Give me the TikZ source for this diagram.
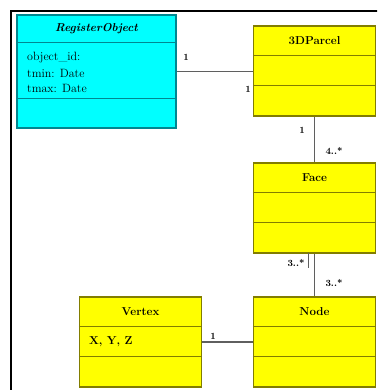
\documentclass[tikz,border=0pt]{standalone}
\usetikzlibrary{calc}
\definecolor{umlcyan}{RGB}{0,255,255}
\definecolor{umlcyanline}{RGB}{0,135,145}
\definecolor{umlyellow}{RGB}{255,255,0}
\definecolor{umlyellowline}{RGB}{130,125,0}
\definecolor{linkgray}{RGB}{95,95,95}
\begin{document}
\begin{tikzpicture}[x=1pt,y=-1pt,
  cbox/.style={draw=umlcyanline, fill=umlcyan, line width=1.1pt, inner sep=0pt, minimum width=159pt, minimum height=113pt},
  ybox/.style={draw=umlyellowline, fill=umlyellow, line width=1.1pt, inner sep=0pt, minimum width=122pt, minimum height=90pt},
  cdiv/.style={draw=umlcyanline, line width=1.1pt},
  ydiv/.style={draw=umlyellowline, line width=1.1pt},
  title/.style={font=\fontsize{11.5}{13}\selectfont\bfseries, inner sep=0pt},
  attr/.style={font=\fontsize{12}{14}\selectfont, anchor=west, inner sep=0pt},
  link/.style={draw=linkgray, line width=1.2pt},
  mult/.style={font=\fontsize{9.5}{11}\selectfont\bfseries, inner sep=0pt}]
\useasboundingbox (0,0) rectangle (377,390);
\clip (0,0) rectangle (377,390);
\fill[white] (0,0) rectangle (377,390);
% outer frame
\draw[line width=2pt] (11,400) -- (11,11) -- (400,11);

% RegisterObject
\node[cbox] (reg) at (96.5,71.5) {};
\draw[cdiv] ($(reg.north west)+(0,28)$) -- ($(reg.north east)+(0,28)$);
\draw[cdiv] ($(reg.north west)+(0,84)$) -- ($(reg.north east)+(0,84)$);
\node[title, font=\fontsize{11.5}{13}\selectfont\bfseries\itshape] (regt) at (96.5,29) {RegisterObject};
\node[attr] (rega1) at (27,58) {object\_id:};
\node[attr] (rega2) at (27,73) {tmin: Date};
\node[attr] (rega3) at (27,88) {tmax: Date};

% 3DParcel
\node[ybox] (parcel) at (314.5,71) {};
\draw[ydiv] ($(parcel.north west)+(0,30)$) -- ($(parcel.north east)+(0,30)$);
\draw[ydiv] ($(parcel.north west)+(0,60)$) -- ($(parcel.north east)+(0,60)$);
\node[title] (parcelt) at (314.5,41) {3DParcel};

% Face
\node[ybox] (face) at (314.5,208) {};
\draw[ydiv] ($(face.north west)+(0,30)$) -- ($(face.north east)+(0,30)$);
\draw[ydiv] ($(face.north west)+(0,60)$) -- ($(face.north east)+(0,60)$);
\node[title] (facet) at (314.5,178) {Face};

% Vertex
\node[ybox] (vertex) at (140.5,342) {};
\draw[ydiv] ($(vertex.north west)+(0,30)$) -- ($(vertex.north east)+(0,30)$);
\draw[ydiv] ($(vertex.north west)+(0,60)$) -- ($(vertex.north east)+(0,60)$);
\node[title] (vertext) at (140.5,312) {Vertex};
\node[attr, font=\fontsize{11.5}{13}\selectfont\bfseries] (vertexa) at (89,342) {X, Y, Z};

% Node
\node[ybox] (nd) at (314.5,342) {};
\draw[ydiv] ($(nd.north west)+(0,30)$) -- ($(nd.north east)+(0,30)$);
\draw[ydiv] ($(nd.north west)+(0,60)$) -- ($(nd.north east)+(0,60)$);
\node[title] (ndt) at (314.5,312) {Node};

% associations
\draw[link] (reg.east) -- (reg.east -| parcel.west);
\draw[link] (parcel.south) -- (face.north);
\draw[link] (face.south) -- (nd.north);
\draw[link] (vertex.east) -- (nd.west);
\coordinate (tickA) at (308,253);
\coordinate (tickB) at (308,268);
\draw[link, line width=0.8pt] (tickA) -- (tickB);

% multiplicities
\node[mult] (m1) at (186,57) {1};
\node[mult] (m2) at (248,89) {1};
\node[mult] (m3) at (302,130) {1};
\node[mult] (m4) at (334,151) {4..*};
\node[mult] (m5) at (296,263) {3..*};
\node[mult] (m6) at (334,283) {3..*};
\node[mult] (m7) at (213,336) {1};
\end{tikzpicture}
\end{document}
